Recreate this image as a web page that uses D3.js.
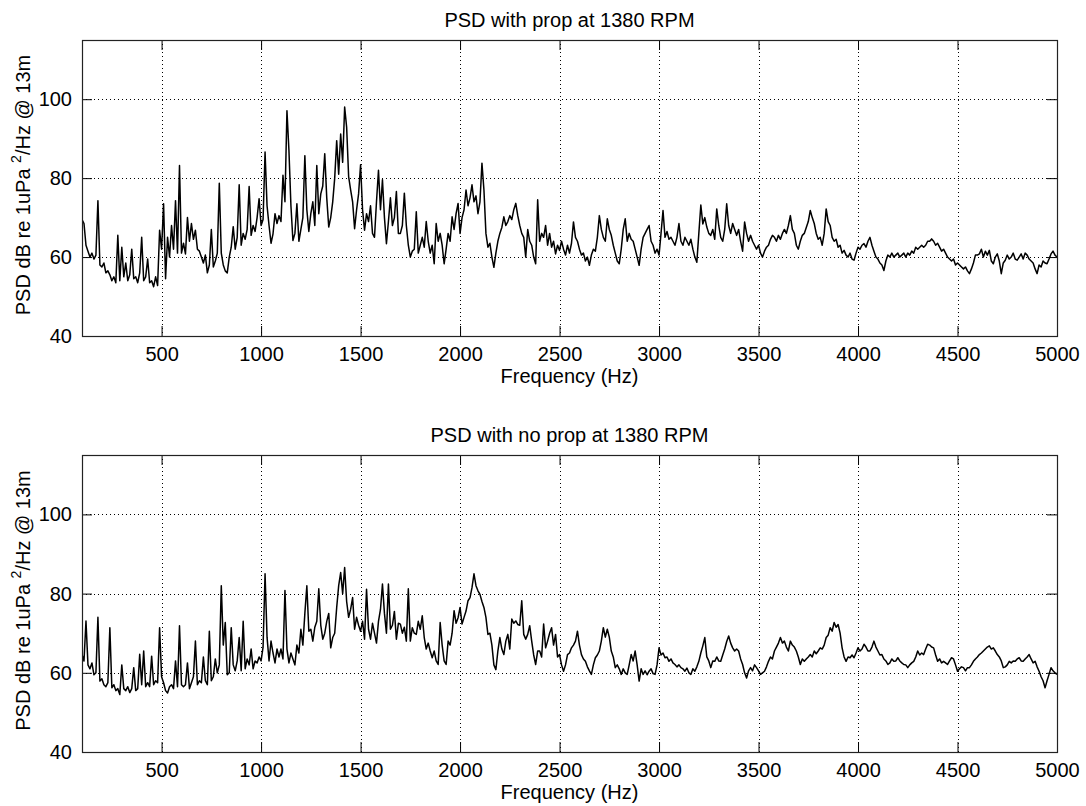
<!DOCTYPE html>
<html>
<head>
<meta charset="utf-8">
<script src="https://cdn.jsdelivr.net/npm/d3@7"></script>
<style>
  body { margin: 0; background: #fff; }
  svg { display: block; }
  text { font-family: "Liberation Sans", Arial, Helvetica, sans-serif; fill: #000; }
</style>
</head>
<body>
<svg id="chart" width="1086" height="806"></svg>
<script>
// Frequency bins (Hz), 10 Hz resolution
const freqHz = d3.range(100, 5001, 10);

// PSD level (dB re 1uPa^2/Hz @ 13m) with the propeller fitted
const psdWithProp = [
  69.5, 68.5, 63, 61.5, 60, 61, 59.5, 60.5, 74.3, 58,
  57.5, 58.5, 56, 56.5, 55.5, 54, 55, 53.5, 65.5, 54,
  62.5, 55, 58.5, 54, 55.5, 62, 54.5, 55, 53.5, 56,
  65, 54, 55, 59.5, 53.5, 54, 52.5, 55, 52.8, 66.8,
  62, 73.5, 54.5, 65, 60, 68, 62, 74.3, 61, 83.2,
  61, 63.5, 60.8, 70, 64, 68.5, 64.5, 66.8, 62, 61.5,
  60, 58.5, 60.5, 56, 58, 67, 57.5, 59, 61, 78.7,
  61, 58, 56.5, 56, 60, 62.5, 67.7, 62, 65, 78.3,
  63, 66, 64.5, 67, 77.9, 65.5, 68, 66.5, 70, 74.8,
  68, 69.5, 86.6, 73, 68, 63.5, 65.9, 71, 68.5, 70.5,
  69, 80.7, 74, 97.1, 87, 73, 64.2, 66, 73.5, 64,
  67, 70, 85.7, 72, 66.5, 71, 74, 68, 83.2, 71,
  76, 78, 86.2, 75, 67.6, 70, 74, 80, 89.5, 81,
  91.2, 84, 98, 92.9, 80.4, 77, 74, 67.2, 72, 76,
  83.4, 72, 66.8, 71, 69, 73, 66, 65, 74, 82,
  72, 79.6, 70, 63.4, 69, 75, 68, 70, 76.6, 66,
  66, 68, 76.2, 68, 63, 60, 61.5, 62, 71.5, 61,
  63, 65, 62.5, 69, 64, 61, 63, 58.3, 68.5, 64,
  66, 63, 58.3, 62, 66, 64, 70.2, 67, 71, 73.6,
  66, 70, 72, 77, 73, 75, 78.3, 74, 75.5, 71,
  74, 83.8, 77, 66, 62.5, 63.5, 60, 57.4, 61, 64,
  66, 67.5, 70.2, 68, 69, 70.5, 69.5, 72, 73.6, 70.5,
  68, 66, 65, 60, 67, 64, 63, 60, 58.3, 74.5,
  64, 66, 65, 68, 63, 66, 62.5, 64, 60.8, 63,
  61.7, 64, 62, 60.5, 63, 61, 63.5, 68.9, 65, 64,
  62, 60.5, 61, 59, 60, 57.9, 60.5, 62, 61.5, 65,
  70.5, 67, 65, 64, 69.7, 67, 65.5, 63, 61, 59,
  58.3, 62, 67, 69.7, 64, 66, 64.5, 64, 62, 60,
  57.9, 62, 65, 66, 67, 68, 64, 63, 61, 62,
  60.5, 66, 71.8, 65, 66.5, 64.5, 65, 64, 63, 65,
  68.5, 64, 63, 65, 64, 63, 64.5, 62, 60, 58.7,
  66, 73.2, 68.4, 70, 67.6, 66, 65.5, 67, 64.5, 72.2,
  68, 65, 64, 67, 73.5, 68, 66, 68.5, 67, 65.5,
  67, 64, 61.5, 68.9, 66, 64, 65.5, 64, 63, 62,
  63, 61, 60, 61.5, 62.5, 63, 64.5, 65.5, 65, 64,
  65.5, 64.5, 66, 67, 66, 68, 70.5, 67, 66, 63,
  62, 64, 65.5, 66, 67.5, 69, 71.8, 70, 68.5, 66,
  64.5, 65, 63, 66, 72.2, 69, 68, 65, 64, 64.5,
  62.5, 63, 61, 61.7, 60.5, 60, 61, 59.5, 59.2, 61,
  62.5, 62, 63, 63.4, 62.5, 64, 65, 63, 61.5, 60,
  59.5, 58.5, 58, 56.6, 59, 60.5, 60, 61, 60, 60.5,
  61, 60, 60.5, 61, 60, 61, 60.5, 61.5, 61, 62.5,
  62, 62.5, 63, 62.5, 63, 64, 64, 64.6, 64, 63,
  63.5, 62.5, 61.5, 62, 61, 60, 59.5, 59, 59.5, 58,
  58.5, 58, 57.5, 57, 57.5, 56.5, 55.8, 57, 58.5, 60.5,
  60.5, 60.8, 62, 60, 61.5, 60.5, 61.7, 59, 58.3, 60,
  60.8, 59, 55.8, 58.5, 59.2, 60.5, 59.5, 60, 61, 59.5,
  59.2, 60, 60.8, 59.5, 61, 60.5, 59.5, 59, 58.5, 57,
  55.8, 58, 57.5, 59, 58.5, 58.3, 59.5, 60.8, 61.5, 60.5, 60
];

// PSD level (dB re 1uPa^2/Hz @ 13m) with no propeller
const psdNoProp = [
  64.6, 63, 73.1, 62, 61, 62.5, 59.5, 60, 74, 57.9,
  58.5, 57, 56.5, 57.5, 71.4, 56.2, 57, 55.5, 56, 54.5,
  62, 56, 55.5, 56.5, 55, 56, 61.3, 55.5, 56, 64.7,
  57, 65.5, 56.5, 57.5, 56.5, 64.2, 57, 58, 57.5, 71.4,
  59, 57.5, 55.5, 54.9, 56.5, 57, 56, 63, 56.5, 71.9,
  57, 56.5, 57, 62.5, 56, 57.5, 59, 68, 57, 58,
  57.5, 64, 58, 57, 70.5, 58, 59, 63.5, 60, 62,
  82, 67, 72.7, 59.5, 60, 71.4, 62, 60.5, 63, 68.9,
  60.5, 73, 61, 63.5, 62, 66, 61, 63, 62.5, 64,
  63, 66.5, 85, 69, 63, 68, 65, 62.5, 66, 64,
  66, 63.5, 80.8, 66, 62.5, 65, 63.5, 62, 67, 65,
  71, 67, 75, 82, 70.5, 71, 68, 71.5, 73, 81.2,
  72, 68.5, 70, 73, 75, 66.3, 68.9, 70, 76.5, 82,
  85.3, 80, 86.6, 78, 74, 76, 79, 71, 74, 72,
  70.5, 73, 68.5, 81.1, 71, 68.5, 72.5, 70, 67.5, 73,
  76, 82.4, 75, 70, 82.4, 71, 72, 75.5, 68.5, 72.5,
  72.3, 70, 71.5, 68, 81.2, 68, 71.4, 70, 69.7, 73,
  71, 74.4, 68.9, 66, 67.5, 65.5, 63.8, 65.5, 63, 62.1,
  72.7, 67, 63, 62.1, 68, 67, 70, 75.7, 72.5, 73.9,
  76.5, 72.3, 74, 75.6, 78.2, 79, 81.5, 85, 82, 80.7,
  79.8, 78, 76.5, 74, 69.7, 70, 67, 62, 60.8, 65.5,
  68.9, 66, 64.6, 68, 69.7, 66, 73.6, 72.5, 73.1, 72.2,
  72, 78.2, 69.7, 68.5, 69.7, 71.9, 68, 64.5, 62.1, 65.5,
  65.5, 64, 72.3, 66.3, 68, 70, 71.4, 67, 69.7, 64,
  64.6, 62, 60.4, 62, 64.6, 65, 66.3, 67, 68, 70.5,
  67, 64.6, 63.5, 62.9, 61.5, 60.5, 59.6, 62, 63.8, 64.5,
  65.5, 68, 71.4, 69, 71, 69, 65.5, 64, 61.3, 62,
  61, 59.6, 61, 60, 59.6, 62, 64.6, 63, 65.5, 62,
  57.9, 61, 59.6, 60.5, 59.5, 60.4, 61, 59.8, 59.6, 62,
  66.3, 64.5, 65, 63.8, 64, 62.9, 63.5, 62.5, 62.1, 61.5,
  62, 61.3, 61, 60.4, 61.2, 60, 59.6, 61, 60.4, 61.5,
  62.9, 65, 66.8, 68.9, 64, 63, 61.3, 63, 62.9, 64,
  63, 62.9, 64.5, 66, 67.9, 69.3, 67.5, 66.3, 65.5, 66,
  65.5, 63.5, 62.1, 60, 58.7, 60.5, 61.3, 60.5, 62, 61.3,
  60.5, 59.6, 60, 60.4, 61.5, 62.9, 64, 63.5, 65.5, 66.5,
  67.5, 68.9, 67.5, 68, 66.5, 65.5, 68, 67, 66.5, 65.5,
  64, 62.1, 63.5, 62.9, 63.5, 64, 64.6, 64, 65.5, 64.8,
  65.5, 66.3, 66, 67, 68.9, 69.5, 71.4, 70.5, 72.7, 71.5,
  72.2, 70, 66.3, 64, 62.9, 64, 63.8, 64.5, 63.8, 65,
  66.3, 65.5, 66, 67.2, 66.5, 65.5, 65.5, 66.5, 68, 66.5,
  65.5, 64.5, 64.6, 63.5, 63, 62.1, 62.5, 63.5, 62.9, 63,
  63.8, 63, 62.5, 62.1, 62, 61.3, 62, 62.5, 62.9, 64,
  65.5, 64.5, 65, 64.6, 66, 67.2, 67, 66.5, 66.3, 64.5,
  62.9, 63.5, 62.5, 62.9, 62.5, 62.1, 63, 63.8, 63.5, 62,
  60.4, 61, 61.5, 61.3, 60.5, 61.3, 61.3, 62, 62.9, 63.5,
  64, 64.6, 65, 65.5, 66, 66.5, 66.8, 66, 66.3, 65.5,
  64.6, 64, 63, 61.3, 61.5, 62, 62.9, 62.5, 63, 62.9,
  63.5, 63.8, 63, 62.9, 63.5, 64, 64.6, 63.5, 62.5, 62.9,
  61.5, 60.4, 59, 58, 56.2, 58, 59.6, 61.3, 60.5, 60, 59.6
];

const xTickValues = [500, 1000, 1500, 2000, 2500, 3000, 3500, 4000, 4500, 5000];
const yTickValues = [40, 60, 80, 100];
const xDomain = [100, 5000];
const yDomain = [40, 115];
const panelTitles = ["PSD with prop at 1380 RPM", "PSD with no prop at 1380 RPM"];
const xLabelText = "Frequency (Hz)";

const svg = d3.select("#chart");
const left = 82, right = 1057;
const panels = [
  { top: 40, bottom: 336, title: panelTitles[0], values: psdWithProp },
  { top: 455, bottom: 752, title: panelTitles[1], values: psdNoProp }
];

const x = d3.scaleLinear().domain(xDomain).range([left, right]);
const intFmt = d3.format("d");

panels.forEach((p, i) => {
  const y = d3.scaleLinear().domain(yDomain).range([p.bottom, p.top]);
  const g = svg.append("g");

  // dotted grid
  g.append("g").selectAll("line").data(xTickValues).join("line")
    .attr("x1", d => Math.round(x(d)) + 0.5).attr("x2", d => Math.round(x(d)) + 0.5)
    .attr("y1", p.top).attr("y2", p.bottom)
    .attr("stroke", "#000").attr("stroke-width", 1).attr("stroke-dasharray", "1,3");
  g.append("g").selectAll("line").data(yTickValues).join("line")
    .attr("y1", d => Math.round(y(d)) + 0.5).attr("y2", d => Math.round(y(d)) + 0.5)
    .attr("x1", left).attr("x2", right)
    .attr("stroke", "#000").attr("stroke-width", 1).attr("stroke-dasharray", "1,3");

  // spectrum trace
  const clipId = "clip" + i;
  svg.append("clipPath").attr("id", clipId).append("rect")
    .attr("x", left).attr("y", p.top).attr("width", right - left).attr("height", p.bottom - p.top);
  const line = d3.line().x((d, k) => x(freqHz[k])).y(d => y(d));
  g.append("path").datum(p.values)
    .attr("clip-path", `url(#${clipId})`)
    .attr("fill", "none").attr("stroke", "#000").attr("stroke-width", 1.5)
    .attr("stroke-linejoin", "round")
    .attr("d", line);

  // axes with inward ticks on all four sides
  const tickLen = -10;
  const xb = g.append("g").attr("transform", `translate(0,${p.bottom})`)
    .call(d3.axisBottom(x).tickValues(xTickValues).tickFormat(intFmt)
      .tickSizeInner(tickLen).tickSizeOuter(0).tickPadding(11));
  const xt = g.append("g").attr("transform", `translate(0,${p.top})`)
    .call(d3.axisTop(x).tickValues(xTickValues).tickSizeInner(tickLen).tickSizeOuter(0).tickFormat(""));
  const yl = g.append("g").attr("transform", `translate(${left},0)`)
    .call(d3.axisLeft(y).tickValues(yTickValues).tickFormat(intFmt)
      .tickSizeInner(tickLen).tickSizeOuter(0).tickPadding(10));
  const yr = g.append("g").attr("transform", `translate(${right},0)`)
    .call(d3.axisRight(y).tickValues(yTickValues).tickSizeInner(tickLen).tickSizeOuter(0).tickFormat(""));
  [xb, xt, yl, yr].forEach(a => {
    a.select(".domain").remove();
    a.selectAll("line").attr("stroke", "#000");
    a.selectAll("text").attr("font-size", 20).attr("font-family", "Liberation Sans, Arial, sans-serif");
  });

  // axes box
  g.append("rect").attr("x", left + 0.5).attr("y", p.top + 0.5)
    .attr("width", right - left).attr("height", p.bottom - p.top)
    .attr("fill", "none").attr("stroke", "#222").attr("stroke-width", 1.2);

  // title
  g.append("text").attr("x", (left + right) / 2).attr("y", p.top - 13)
    .attr("text-anchor", "middle").attr("font-size", 20).text(p.title);

  // x label, set just below the tick labels
  g.append("text").attr("x", (left + right) / 2).attr("y", p.bottom + 47)
    .attr("text-anchor", "middle").attr("font-size", 20).text(xLabelText);

  // y label with superscript
  const yl2 = g.append("text")
    .attr("transform", `translate(30,${(p.top + p.bottom) / 2 - 3}) rotate(-90)`)
    .attr("text-anchor", "middle").attr("font-size", 20);
  yl2.append("tspan").text("PSD dB re 1uPa ");
  yl2.append("tspan").attr("font-size", 14).attr("dy", -9).text("2");
  yl2.append("tspan").attr("dy", 9).text("/Hz @ 13m");
});
</script>
</body>
</html>
